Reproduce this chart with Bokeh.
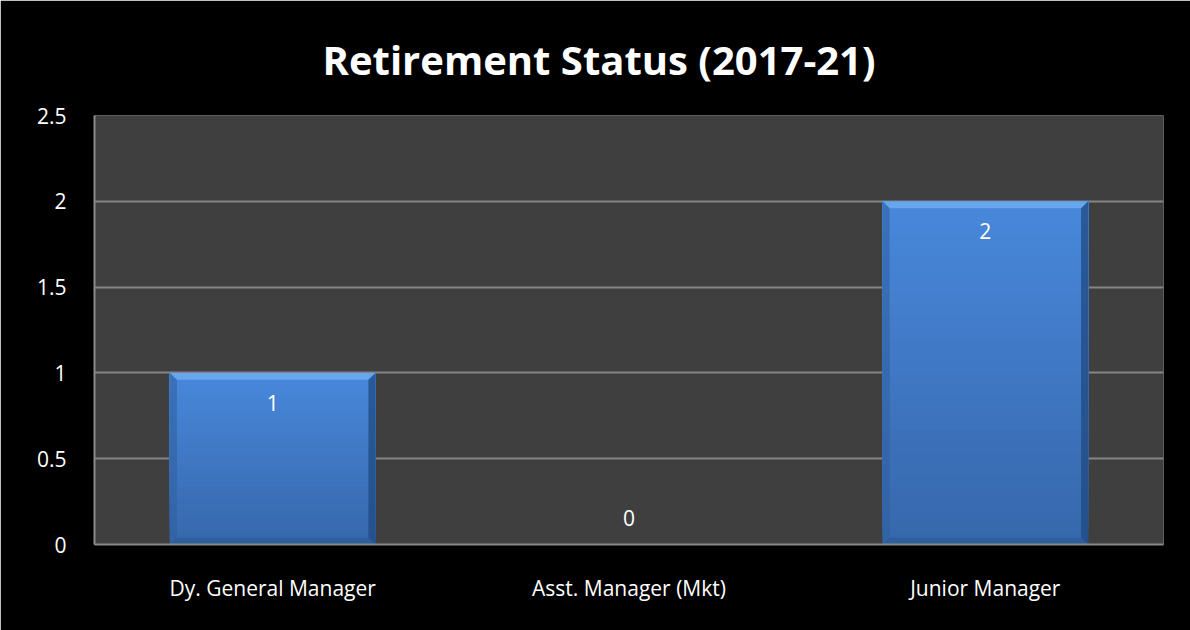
import numpy as np
from bokeh.plotting import figure
from bokeh.models import FactorRange, Range1d, SingleIntervalTicker, ColumnDataSource
from bokeh.core.properties import value
from bokeh.embed import file_html
from bokeh.resources import INLINE

categories = ["Dy. General Manager", "Asst. Manager (Mkt)", "Junior Manager"]
counts = [1, 0, 2]
title_text = "Retirement Status (2017-21)"

FONT = "Open Sans"

p = figure(x_range=FactorRange(*categories), y_range=Range1d(0, 2.5),
           width=1190, height=630, output_backend="svg", toolbar_location=None,
           min_border_left=94, min_border_right=27, min_border_top=115, min_border_bottom=86)

p.background_fill_color = "#3f3f3f"
p.border_fill_color = "#000000"
p.outline_line_color = None

p.title.text = title_text
p.title.align = "left"
p.title.offset = 228
p.title.text_color = "white"
p.title.text_font = FONT
p.title.text_font_style = "bold"
p.title.text_font_size = "40px"
p.title.standoff = 58

# bars: gradient body + bevel
half = 0.2887
n_bands = 30
top_col = np.array([0x48, 0x88, 0xdb])
bot_col = np.array([0x36, 0x67, 0xab])
for cat, v in zip(categories, counts):
    if v <= 0:
        continue
    edges = np.linspace(0, v, n_bands + 1)
    for i in range(n_bands):
        t = (i + 0.5) / n_bands
        c = bot_col + (top_col - bot_col) * t
        col = "#%02x%02x%02x" % tuple(int(round(x)) for x in c)
        p.quad(left=[(cat, -half)], right=[(cat, half)], bottom=[edges[i]], top=[v],
               fill_color=col, line_color=None)
    dx = 0.02
    dy = 0.04
    p.patch(x=[(cat, -half), (cat, half), (cat, half - dx), (cat, -half + dx)],
            y=[v, v, v - dy, v - dy], fill_color="#6aaaf0", line_color=None, fill_alpha=0.9)
    p.patch(x=[(cat, -half), (cat, -half + dx), (cat, -half + dx), (cat, -half)],
            y=[v, v - dy, dy, 0], fill_color="#2f5f9e", line_color=None, fill_alpha=0.55)
    p.patch(x=[(cat, half), (cat, half - dx), (cat, half - dx), (cat, half)],
            y=[v, v - dy, dy, 0], fill_color="#1f4a80", line_color=None, fill_alpha=0.75)
    p.patch(x=[(cat, -half), (cat, half), (cat, half - dx), (cat, -half + dx)],
            y=[0, 0, dy, dy], fill_color="#2c5a96", line_color=None, fill_alpha=0.7)

# data labels
offs = [30 if v > 0 else -27 for v in counts]
src = ColumnDataSource(dict(x=categories, y=counts, t=[str(v) for v in counts], o=offs))
p.text(x="x", y="y", text="t", y_offset="o", source=src, text_color="white",
       text_font=value(FONT), text_font_size="21px", text_align="center", text_baseline="middle")

# axes
p.yaxis.ticker = SingleIntervalTicker(interval=0.5)
for ax in (p.xaxis[0], p.yaxis[0]):
    ax.axis_line_color = "#8a8a8a"
    ax.axis_line_width = 2
    ax.major_tick_line_color = None
    ax.minor_tick_line_color = None
    ax.major_label_text_color = "white"
    ax.major_label_text_font = FONT
    ax.major_label_text_font_size = "21px"
p.xaxis.major_label_standoff = 23
p.yaxis.major_label_standoff = 22

p.xgrid.grid_line_color = None
p.ygrid.grid_line_color = "#858585"
p.ygrid.grid_line_width = 2

open("out.html", "w").write(file_html(p, INLINE))
